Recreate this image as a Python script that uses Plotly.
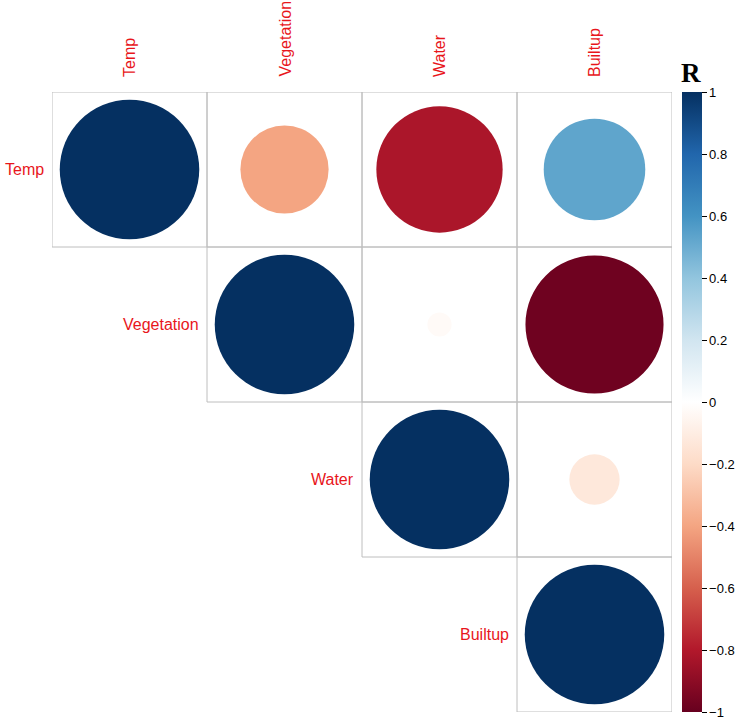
import numpy as np
import plotly.graph_objects as go

variables = ["Temp", "Vegetation", "Water", "Builtup"]
corr = [
    [1.00, -0.40, -0.82, 0.53],
    [-0.40, 1.00, -0.03, -0.98],
    [-0.82, -0.03, 1.00, -0.13],
    [0.53, -0.98, -0.13, 1.00],
]
cbar_ticks = [-1, -0.8, -0.6, -0.4, -0.2, 0, 0.2, 0.4, 0.6, 0.8, 1]
cbar_ticktext = ["\u22121", "\u22120.8", "\u22120.6", "\u22120.4", "\u22120.2", "0",
                 "0.2", "0.4", "0.6", "0.8", "1"]

palette = ["#67001F", "#B2182B", "#D6604D", "#F4A582", "#FDDBC7", "#FFFFFF",
           "#D1E5F0", "#92C5DE", "#4393C3", "#2166AC", "#053061"]
stops = np.linspace(-1, 1, len(palette))
colorscale = [[(s + 1) / 2, c] for s, c in zip(stops, palette)]


def hex2rgb(h):
    h = h.lstrip("#")
    return [int(h[i:i + 2], 16) for i in (0, 2, 4)]


def color_for(v):
    rgbs = np.array([hex2rgb(c) for c in palette], dtype=float)
    r = np.interp(v, stops, rgbs[:, 0])
    g = np.interp(v, stops, rgbs[:, 1])
    b = np.interp(v, stops, rgbs[:, 2])
    return "rgb(%d,%d,%d)" % (round(r), round(g), round(b))


n = len(variables)
shapes = []
annotations = []
xs, ys, vs = [], [], []
for i in range(n):
    for j in range(i, n):
        v = corr[i][j]
        cx, cy = j + 1, i + 1
        shapes.append(dict(type="rect", xref="x", yref="y",
                           x0=cx - 0.5, x1=cx + 0.5, y0=cy - 0.5, y1=cy + 0.5,
                           line=dict(color="#BEBEBE", width=1), fillcolor="rgba(0,0,0,0)",
                           layer="below"))
        rad = 0.45 * np.sqrt(abs(v))
        shapes.append(dict(type="circle", xref="x", yref="y",
                           x0=cx - rad, x1=cx + rad, y0=cy - rad, y1=cy + rad,
                           line=dict(width=0), fillcolor=color_for(v)))
        xs.append(cx)
        ys.append(cy)
        vs.append(v)

label_font = dict(color="#E8161B", size=16, family="Liberation Sans, Arial")
for i, name in enumerate(variables):
    annotations.append(dict(x=i + 0.5, y=i + 1, xref="x", yref="y", text=name,
                            showarrow=False, xanchor="right", yanchor="middle",
                            xshift=-6, font=label_font))
    annotations.append(dict(x=i + 1, y=0.5, xref="x", yref="y", text=name,
                            showarrow=False, xanchor="center", yanchor="bottom",
                            textangle=-90, yshift=13, font=label_font))

annotations.append(dict(x=(691 - 52) / 620, y=1, xref="paper", yref="paper", text="<b>R</b>",
                        showarrow=False, xanchor="center", yanchor="bottom", yshift=2,
                        font=dict(color="black", size=27,
                                  family="Liberation Serif, Times New Roman, serif")))

fig = go.Figure()
fig.add_trace(go.Scatter(
    x=xs, y=ys, mode="markers", hoverinfo="skip",
    marker=dict(size=1, opacity=0, color=vs, cmin=-1, cmax=1, colorscale=colorscale,
                showscale=True,
                colorbar=dict(x=(682 - 52) / 620, xanchor="left", thickness=20,
                              thicknessmode="pixels", len=1, lenmode="fraction",
                              y=0.5, yanchor="middle", ypad=0, xpad=0,
                              outlinewidth=0, ticks="outside", ticklen=5,
                              tickcolor="black", tickvals=cbar_ticks,
                              ticktext=cbar_ticktext,
                              tickfont=dict(size=13, color="black",
                                            family="Liberation Sans, Arial"))),
    showlegend=False,
))

fig.update_layout(
    width=740, height=720,
    margin=dict(l=52, r=68, t=92, b=8, autoexpand=False),
    paper_bgcolor="white", plot_bgcolor="white",
    xaxis=dict(range=[0.5, 4.5], visible=False, fixedrange=True),
    yaxis=dict(range=[4.5, 0.5], visible=False, fixedrange=True),
    shapes=shapes, annotations=annotations,
)

# remove the browser's default 8px body margin so the figure sits at (0, 0)
fig.write_html("out.html", config={"displayModeBar": False},
               post_script="document.body.style.margin='0';")
